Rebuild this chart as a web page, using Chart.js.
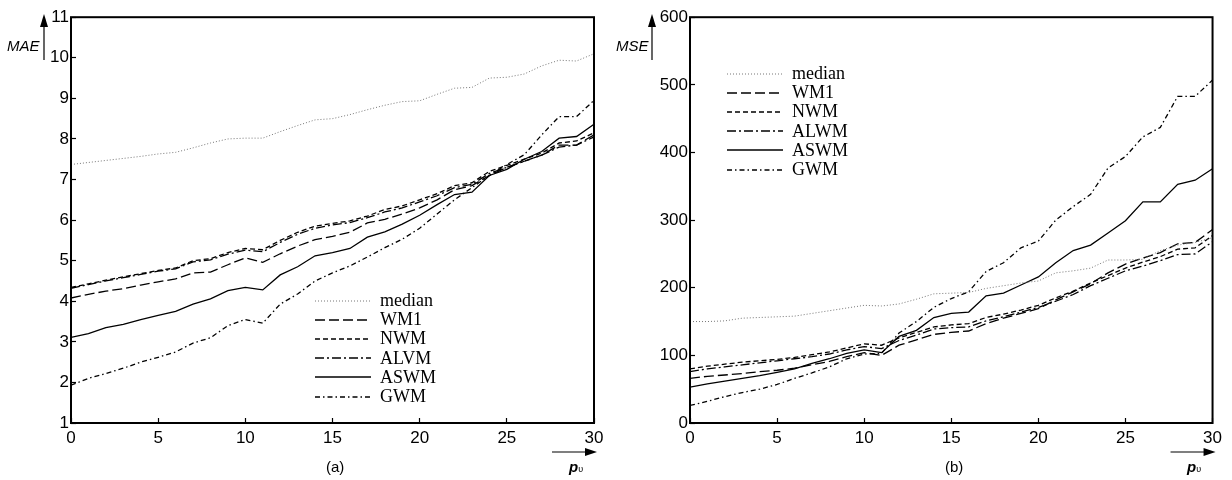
<!DOCTYPE html>
<html>
<head>
<meta charset="utf-8">
<script src="https://cdn.jsdelivr.net/npm/chart.js@4.4.1/dist/chart.umd.min.js"></script>
<style>
body { margin: 0; background: #fff; }
#wrap { position: relative; width: 1232px; height: 480px; font-family: "Liberation Sans", Arial, sans-serif; }
canvas { position: absolute; top: 0; }
.lbl { position: absolute; color: #000; white-space: nowrap; line-height: 1; }
.legend { position: absolute; font-family: "Liberation Serif", "Times New Roman", serif; font-size: 18px; color: #000; }
.legend div { height: 19.2px; display: flex; align-items: center; }
.legend svg { width: 56px; height: 10px; margin-right: 9px; }
</style>
</head>
<body>
<div id="wrap">
  <canvas id="chartA" width="616" height="480" style="left:0"></canvas>
  <canvas id="chartB" width="616" height="480" style="left:616px"></canvas>

  <div class="lbl" style="left:7px;top:38px;font-size:15px;font-style:italic">MAE</div>
  <div class="lbl" style="left:616px;top:38px;font-size:15px;font-style:italic">MSE</div>
  <div class="lbl" style="left:326px;top:459px;font-size:15px">(a)</div>
  <div class="lbl" style="left:945px;top:459px;font-size:15px">(b)</div>
  <div class="lbl" style="left:569px;top:459px;font-size:15px;font-style:italic;font-weight:bold">p<span style="font-size:9px;font-style:normal;font-weight:normal">υ</span></div>
  <div class="lbl" style="left:1187px;top:459px;font-size:15px;font-style:italic;font-weight:bold">p<span style="font-size:9px;font-style:normal;font-weight:normal">υ</span></div>

  <div class="legend" id="legendA" style="left:315px;top:291px"></div>
  <div class="legend" id="legendB" style="left:727px;top:64px"></div>
</div>
<script>
// valeurs
const pv = [0, 1, 2, 3, 4, 5, 6, 7, 8, 9, 10, 11, 12, 13, 14, 15, 16, 17, 18, 19, 20, 21, 22, 23, 24, 25, 26, 27, 28, 29, 30];

const namesA = ['median', 'WM1', 'NWM', 'ALVM', 'ASWM', 'GWM'];
const namesB = ['median', 'WM1', 'NWM', 'ALWM', 'ASWM', 'GWM'];

// (a) MAE
const maeMedian = [7.37, 7.42, 7.47, 7.52, 7.57, 7.63, 7.67, 7.78, 7.9, 8.0, 8.02, 8.02, 8.18, 8.33, 8.47, 8.5, 8.6, 8.72, 8.83, 8.92, 8.94, 9.1, 9.25, 9.27, 9.5, 9.52, 9.6, 9.8, 9.94, 9.92, 10.1];
const maeWM1 = [4.08, 4.17, 4.25, 4.31, 4.4, 4.48, 4.55, 4.7, 4.72, 4.9, 5.07, 4.96, 5.17, 5.36, 5.52, 5.6, 5.7, 5.93, 6.02, 6.15, 6.3, 6.5, 6.75, 6.85, 7.1, 7.3, 7.45, 7.6, 7.85, 7.85, 8.1];
const maeNWM = [4.34, 4.43, 4.52, 4.6, 4.68, 4.76, 4.82, 5.0, 5.05, 5.2, 5.3, 5.27, 5.5, 5.7, 5.85, 5.92, 5.98, 6.1, 6.26, 6.35, 6.5, 6.65, 6.85, 6.92, 7.2, 7.35, 7.5, 7.65, 7.9, 7.95, 8.15];
const maeALVM = [4.32, 4.41, 4.5, 4.58, 4.66, 4.74, 4.8, 4.97, 5.02, 5.16, 5.26, 5.22, 5.45, 5.65, 5.8, 5.88, 5.94, 6.06, 6.2, 6.3, 6.45, 6.6, 6.8, 6.88, 7.15, 7.3, 7.45, 7.6, 7.8, 7.85, 8.05];
const maeASWM = [3.11, 3.2, 3.35, 3.43, 3.55, 3.65, 3.75, 3.93, 4.06, 4.26, 4.34, 4.28, 4.65, 4.85, 5.12, 5.2, 5.3, 5.58, 5.71, 5.9, 6.12, 6.38, 6.63, 6.69, 7.1, 7.25, 7.5, 7.69, 8.02, 8.06, 8.36];
const maeGWM = [1.93, 2.1, 2.22, 2.35, 2.5, 2.62, 2.75, 2.97, 3.1, 3.4, 3.55, 3.46, 3.93, 4.18, 4.5, 4.7, 4.87, 5.09, 5.32, 5.53, 5.8, 6.15, 6.5, 6.8, 7.1, 7.37, 7.61, 8.1, 8.55, 8.55, 8.95];

// (b) MSE
const mseMedian = [150, 150, 151, 155, 156, 157, 158, 162, 166, 170, 174, 173, 176, 183, 191, 192, 193, 199, 203, 207, 210, 222, 225, 229, 241, 241, 242, 255, 263, 267, 274];
const mseWM1 = [66, 69, 71, 73, 76, 78, 81, 86, 91, 98, 104, 100, 115, 123, 131, 134, 136, 147, 155, 162, 169, 182, 194, 206, 222, 235, 244, 252, 265, 267, 286];
const mseNWM = [80, 84, 87, 90, 92, 94, 97, 101, 105, 111, 117, 115, 126, 134, 142, 145, 147, 156, 161, 167, 174, 185, 195, 207, 218, 229, 238, 246, 257, 259, 277];
const mseALWM = [76, 80, 83, 86, 89, 92, 95, 98, 102, 108, 113, 110, 122, 130, 139, 141, 142, 151, 157, 164, 171, 180, 190, 203, 214, 225, 232, 240, 249, 250, 268];
const mseASWM = [53, 58, 62, 66, 70, 75, 80, 88, 95, 103, 108, 104, 128, 137, 156, 162, 164, 188, 192, 204, 216, 237, 255, 263, 281, 299, 327, 327, 353, 359, 376];
const mseGWM = [26, 32, 39, 45, 50, 57, 66, 74, 83, 95, 102, 103, 133, 150, 171, 184, 194, 224, 237, 259, 269, 300, 320, 338, 377, 394, 423, 437, 483, 483, 507];

const yTicksA = [1, 11, 1];
const yTicksB = [0, 600, 100];

// styles des courbes : median, WM1, NWM, ALVM, ASWM, GWM
const lineStyles = [
  { color: '#777', dash: [1, 2], width: 1 },
  { color: '#000', dash: [10, 4], width: 1.3 },
  { color: '#000', dash: [5, 3], width: 1.3 },
  { color: '#000', dash: [9, 3, 2, 3], width: 1.3 },
  { color: '#000', dash: [], width: 1.3 },
  { color: '#000', dash: [5, 3, 1.5, 3], width: 1.3 }
];

const tickFont = { family: '"Liberation Sans", Arial, sans-serif', size: 17 };

// cadre + flèches des axes
const framePlugin = {
  id: 'frame',
  afterDraw(chart, args, opts) {
    const { ctx, chartArea: a } = chart;
    ctx.save();
    ctx.strokeStyle = '#000';
    ctx.lineWidth = 2;
    ctx.strokeRect(a.left, a.top, a.right - a.left, a.bottom - a.top);

    ctx.fillStyle = '#000';
    ctx.lineWidth = 1.2;
    // flèche verticale
    const vx = opts.arrowX;
    ctx.beginPath();
    ctx.moveTo(vx, 60);
    ctx.lineTo(vx, 26);
    ctx.stroke();
    ctx.beginPath();
    ctx.moveTo(vx, 14);
    ctx.lineTo(vx - 4, 27);
    ctx.lineTo(vx + 4, 27);
    ctx.closePath();
    ctx.fill();
    // flèche horizontale
    const hy = 452;
    const hx = a.right + 3;
    ctx.beginPath();
    ctx.moveTo(hx - 45, hy);
    ctx.lineTo(hx - 10, hy);
    ctx.stroke();
    ctx.beginPath();
    ctx.moveTo(hx, hy);
    ctx.lineTo(hx - 12, hy - 4);
    ctx.lineTo(hx - 12, hy + 4);
    ctx.closePath();
    ctx.fill();
    ctx.restore();
  }
};

function makeChart(id, seriesList, names, yTicks, yWidth, padRight, arrowX) {
  const datasets = seriesList.map((vals, i) => ({
    label: names[i],
    data: vals.map((v, j) => ({ x: pv[j], y: v })),
    borderColor: lineStyles[i].color,
    borderDash: lineStyles[i].dash,
    borderWidth: lineStyles[i].width,
    pointRadius: 0,
    tension: 0,
    fill: false
  }));

  return new Chart(document.getElementById(id), {
    type: 'line',
    data: { datasets },
    plugins: [framePlugin],
    options: {
      responsive: false,
      animation: false,
      layout: { padding: { top: 15, right: padRight, left: 0, bottom: 0 } },
      plugins: {
        legend: { display: false },
        tooltip: { enabled: false },
        frame: { arrowX }
      },
      scales: {
        x: {
          type: 'linear',
          min: 0,
          max: 30,
          ticks: { stepSize: 5, color: '#000', font: tickFont, padding: 10, maxRotation: 0 },
          grid: { drawOnChartArea: false, tickLength: -5, color: '#000', tickWidth: 1.2 },
          border: { display: false },
          afterFit(s) { s.height = 57; }
        },
        y: {
          min: yTicks[0],
          max: yTicks[1],
          ticks: { stepSize: yTicks[2], color: '#000', font: tickFont, padding: 7 },
          grid: { drawOnChartArea: false, tickLength: -5, color: '#000', tickWidth: 1.2 },
          border: { display: false },
          afterFit(s) { s.width = yWidth; }
        }
      }
    }
  });
}

function buildLegend(elId, names) {
  const el = document.getElementById(elId);
  names.forEach((n, i) => {
    const st = lineStyles[i];
    const row = document.createElement('div');
    row.innerHTML = '<svg viewBox="0 0 56 10"><line x1="0" y1="5" x2="56" y2="5" stroke="' + st.color +
      '" stroke-width="' + st.width + '" stroke-dasharray="' + (st.dash.length ? st.dash.join(' ') : 'none') +
      '"/></svg><span>' + n + '</span>';
    el.appendChild(row);
  });
}

makeChart('chartA', [maeMedian, maeWM1, maeNWM, maeALVM, maeASWM, maeGWM], namesA, yTicksA, 71, 22, 44);
makeChart('chartB', [mseMedian, mseWM1, mseNWM, mseALWM, mseASWM, mseGWM], namesB, yTicksB, 74, 19, 36);
buildLegend('legendA', namesA);
buildLegend('legendB', namesB);
</script>
</body>
</html>
